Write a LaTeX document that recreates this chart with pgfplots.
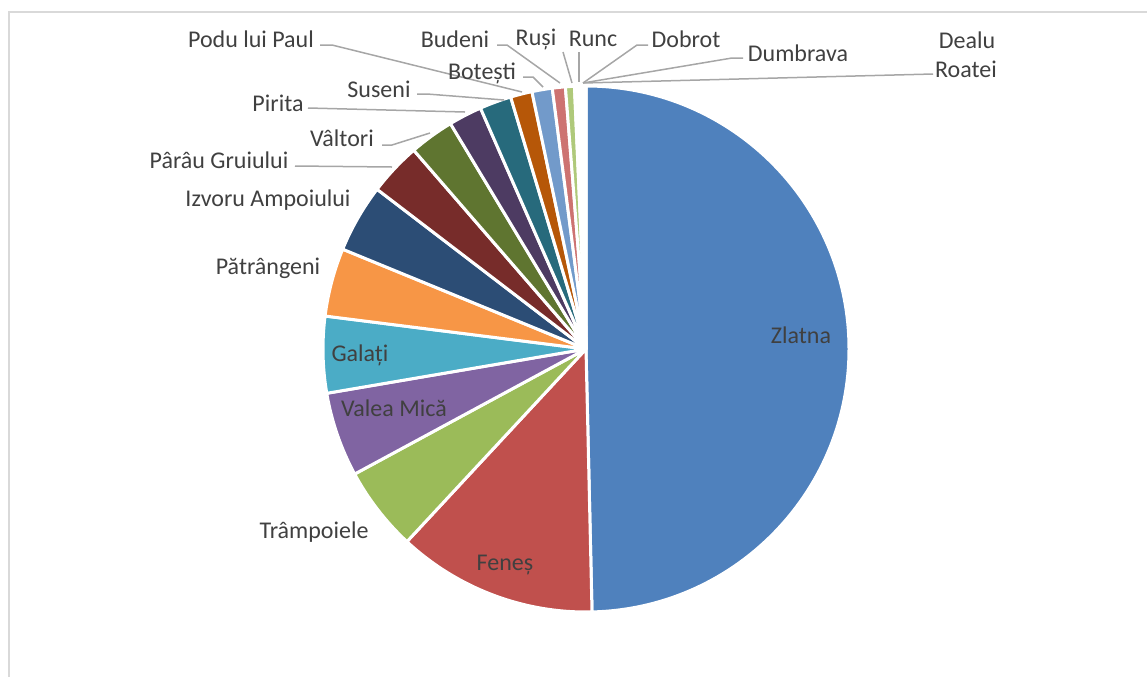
\documentclass[border=0pt]{standalone}
\usepackage{pgfplots}
\pgfplotsset{compat=1.18}
\usepackage{pgfplotstable}
\usepackage{fontspec}
\setmainfont{Carlito}
\definecolor{c0}{HTML}{4F81BD}
\definecolor{c1}{HTML}{C0504D}
\definecolor{c2}{HTML}{9BBB59}
\definecolor{c3}{HTML}{8064A2}
\definecolor{c4}{HTML}{4BACC6}
\definecolor{c5}{HTML}{F79646}
\definecolor{c6}{HTML}{2C4D75}
\definecolor{c7}{HTML}{772C2A}
\definecolor{c8}{HTML}{5F7530}
\definecolor{c9}{HTML}{4D3B62}
\definecolor{c10}{HTML}{276A7C}
\definecolor{c11}{HTML}{B65708}
\definecolor{c12}{HTML}{729ACA}
\definecolor{c13}{HTML}{CD7371}
\definecolor{c14}{HTML}{AFC97A}
\definecolor{c15}{HTML}{9983B5}
\definecolor{c16}{HTML}{6FBDD1}
\definecolor{c17}{HTML}{F9AB6B}
\definecolor{c18}{HTML}{3A679C}
\definecolor{txt}{HTML}{404040}
\definecolor{lead}{HTML}{A6A6A6}
\definecolor{frame}{HTML}{D9D9D9}

\pgfplotstableread[col sep=comma]{
name,value
Zlatna,49.7
Feneș,12.3
Trâmpoiele,5.2
Valea Mică,5.2
Galați,4.7
Pătrângeni,4.2
Izvoru Ampoiului,4.2
Pârâu Gruiului,3.25
Vâltori,2.75
Pirita,2.05
Suseni,1.95
Podu lui Paul,1.33
Botești,1.25
Budeni,0.8
Ruși,0.55
Runc,0.175
Dobrot,0.175
Dumbrava,0.175
Dealu Roatei,0.175
}\piedata

\begin{document}
\begin{tikzpicture}
\begin{axis}[width=573.5pt, height=338pt, scale only axis,
  xmin=0, xmax=1147, ymin=0, ymax=676, y dir=reverse,
  hide axis, clip=false]
\pgfplotsextra{
  % frame
  \draw[frame, line width=0.8pt] (axis cs:9,690) -- (axis cs:9,12) -- (axis cs:1160,12);
  % total
  \def\total{0}
  \pgfplotsforeachungrouped \i in {0,...,18}{%
    \pgfplotstablegetelem{\i}{value}\of{\piedata}%
    \pgfmathsetmacro\total{\total+\pgfplotsretval}%
  }
  \def\cum{0}
  \def\R{131.5pt}
  \pgfplotsforeachungrouped \i in {0,...,18}{%
    \pgfplotstablegetelem{\i}{value}\of{\piedata}%
    \let\v\pgfplotsretval
    \pgfmathsetmacro\sa{90-\cum/\total*360}%
    \pgfmathsetmacro\cum{\cum+\v}%
    \pgfmathsetmacro\ea{90-\cum/\total*360}%
    \fill[c\i, draw=white, line width=1.5pt, line join=round]
      (axis cs:586,349) -- ++(\sa:\R) arc[start angle=\sa, end angle=\ea, radius=\R] -- cycle;
  }
  % leader lines
  \begin{scope}[lead, line width=0.75pt]
  \draw (axis cs:295,166) -- (axis cs:392,167);
  \draw (axis cs:382,145) -- (axis cs:392,145) -- (axis cs:430,133);
  \draw (axis cs:308,108) -- (axis cs:465,112);
  \draw (axis cs:417,94) -- (axis cs:427,94) -- (axis cs:504,100);
  \draw (axis cs:320,45) -- (axis cs:332,45) -- (axis cs:522,92);
  \draw (axis cs:523,77) -- (axis cs:533,77) -- (axis cs:543,87);
  \draw (axis cs:497,45) -- (axis cs:507,45) -- (axis cs:560,83);
  \draw (axis cs:563,52) -- (axis cs:572,83);
  \draw (axis cs:579,52) -- (axis cs:579,82);
  \draw (axis cs:648,45) -- (axis cs:637,45) -- (axis cs:583,83);
  \draw (axis cs:743,58) -- (axis cs:732,58) -- (axis cs:583,83);
  \draw (axis cs:933,74) -- (axis cs:583,83);
  \end{scope}
  % labels
  \begin{scope}[every node/.style={txt, font=\fontsize{12}{14}\selectfont, inner sep=0pt}]
  \node at (axis cs:801,335) {Zlatna};
  \node at (axis cs:505,565) {Feneș};
  \node at (axis cs:314,532) {Trâmpoiele};
  \node at (axis cs:394,408) {Valea Mică};
  \node at (axis cs:360,355) {Galați};
  \node at (axis cs:268,268) {Pătrângeni};
  \node at (axis cs:268,200) {Izvoru Ampoiului};
  \node at (axis cs:219,160) {Pârâu Gruiului};
  \node at (axis cs:342,138) {Vâltori};
  \node at (axis cs:278,103) {Pirita};
  \node at (axis cs:379,89) {Suseni};
  \node at (axis cs:251,39) {Podu lui Paul};
  \node at (axis cs:482,73) {Botești};
  \node at (axis cs:455,39) {Budeni};
  \node at (axis cs:536,39) {Ruși};
  \node at (axis cs:593,39) {Runc};
  \node at (axis cs:686,39) {Dobrot};
  \node at (axis cs:798,53) {Dumbrava};
  \node at (axis cs:967,40) {Dealu};
  \node at (axis cs:966,69) {Roatei};
  \end{scope}
}
\end{axis}
\pgfresetboundingbox
\path (current axis.south west) rectangle (current axis.north east);
\end{tikzpicture}
\end{document}
